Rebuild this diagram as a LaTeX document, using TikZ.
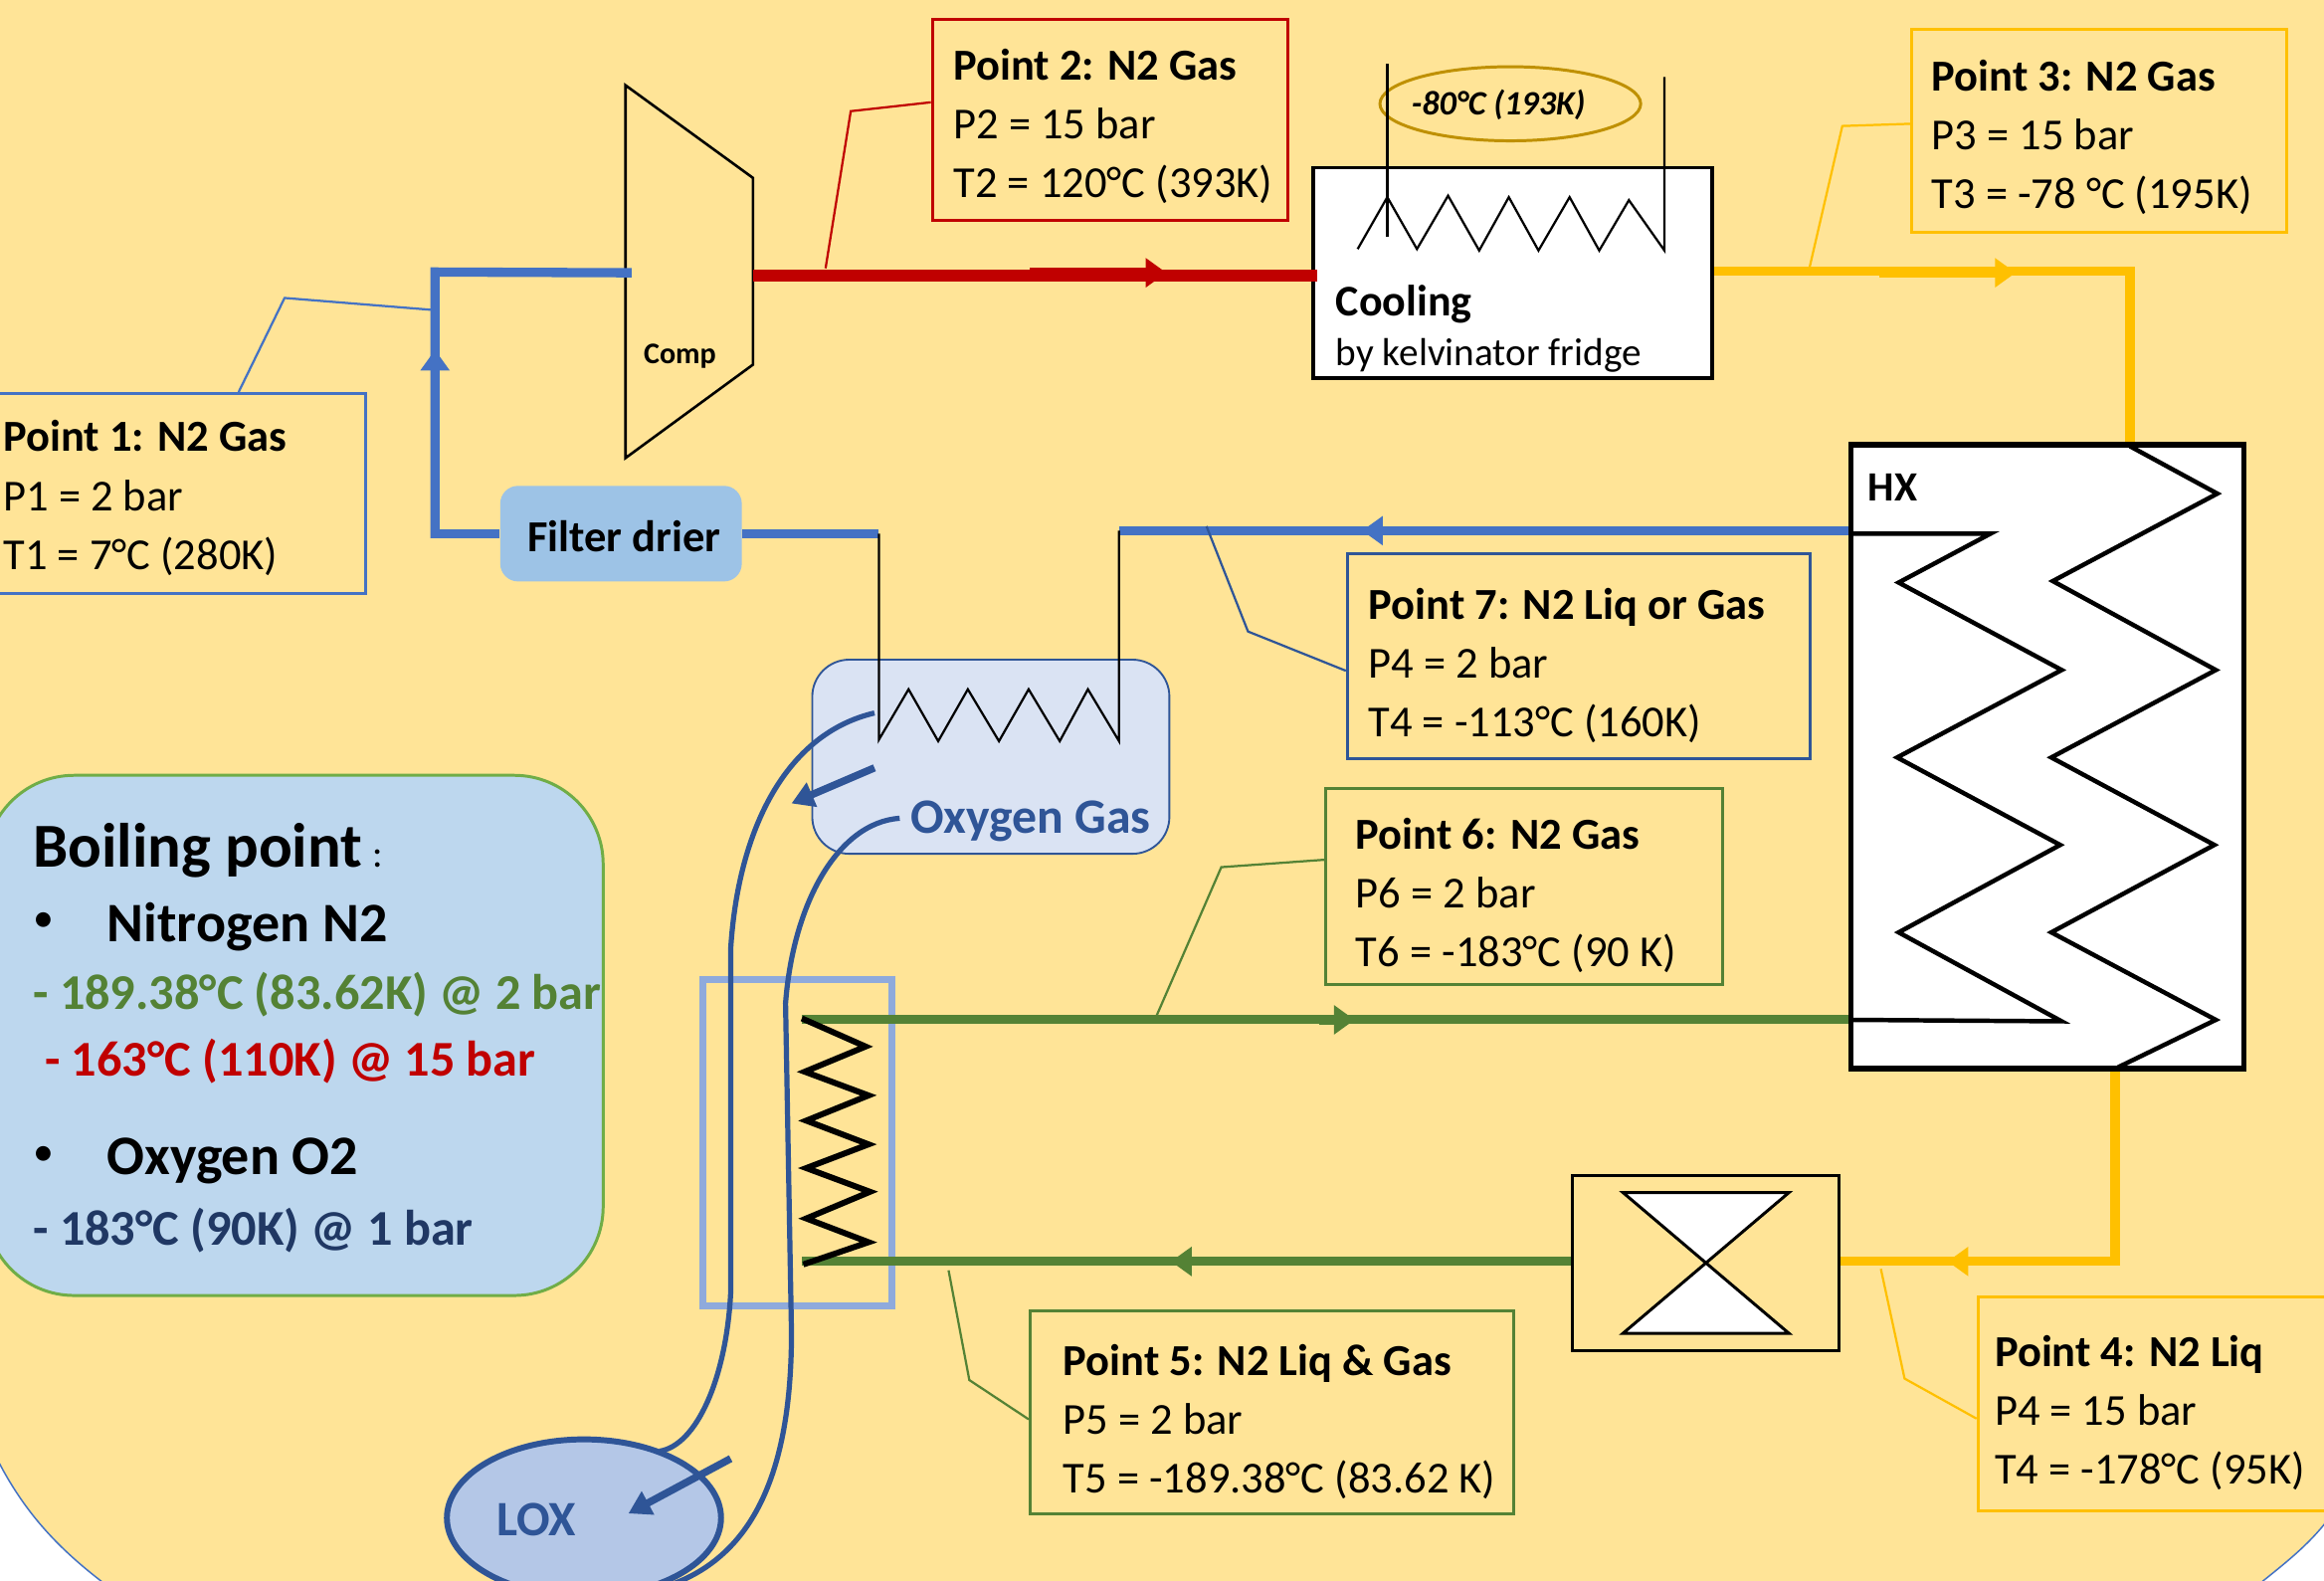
\documentclass[tikz,border=0pt]{standalone}
\usepackage{fontspec}
\setmainfont{Carlito}
\usetikzlibrary{arrows.meta,shapes.geometric}
\definecolor{sand}{HTML}{FFE497}
\definecolor{pipeblue}{HTML}{4472C4}
\definecolor{pipered}{HTML}{C00000}
\definecolor{pipeyellow}{HTML}{FFC000}
\definecolor{pipegreen}{HTML}{548235}
\definecolor{oxblue}{HTML}{2F5597}
\definecolor{navy}{HTML}{203864}
\definecolor{panelblue}{HTML}{BDD7EE}
\definecolor{panelline}{HTML}{70AD47}
\definecolor{filterblue}{HTML}{9DC3E6}
\definecolor{oxfill}{HTML}{DAE3F3}
\definecolor{loxfill}{HTML}{B4C7E7}
\definecolor{sepblue}{HTML}{8FAADC}
\definecolor{goldline}{HTML}{BF9000}
\begin{document}
\begin{tikzpicture}[x=0.02cm, y=-0.02cm]
\tikzset{
    pipe/.style={line width=1.25mm},
    flowtip/.style={line width=1.25mm, -{Triangle[length=2.8mm, width=3.8mm]}},
    pointbox/.style={rectangle, draw, line width=0.4mm, inner sep=0pt},
    pointtext/.style={anchor=west, align=left, inner sep=0pt, execute at begin node={\spaceskip=0pt\xspaceskip=0pt}, font=\fontsize{17}{22.6}\selectfont},
    callout/.style={line width=0.3mm},
    coil/.style={line width=0.3mm, black, line join=miter},
    bigcoil/.style={line width=0.6mm, black, line join=miter},
    label/.style={anchor=west, inner sep=0pt},
    oxpipe/.style={line width=0.7mm, oxblue}
}

  \clip (0,0) rectangle (1568,1066);
  \fill[white] (0,0) rectangle (1568,1066);
  \filldraw[fill=sand, draw=pipeblue, line width=0.2mm] (-5,-5) -- (1573,-5) -- (1573,1022)
      .. controls (1560,1040) and (1545,1052) .. (1525,1068) -- (70,1068)
      .. controls (40,1045) and (15,1020) .. (-5,978) -- cycle;

  \node[rectangle, draw=panelline, fill=panelblue, line width=0.4mm, rounded corners=12mm, minimum width=83.4mm, minimum height=70.2mm] (boiling) at (198.5,698.5) {};
  \node[label, font=\fontsize{24}{24}\selectfont\bfseries] (boilhead) at (22,574) {Boiling point\,{\normalfont\fontsize{15}{15}\selectfont:}};
  \node[label, font=\fontsize{16}{16}\selectfont] (bullet1) at (22,622) {•};
  \node[label, font=\fontsize{21.4}{21.4}\selectfont\bfseries] (nitrogen) at (72,625) {Nitrogen N2};
  \node[label, font=\fontsize{19.2}{19.2}\selectfont\bfseries, text=pipegreen] (boil1) at (22,671) {- 189.38°C (83.62K) @ 2 bar};
  \node[label, font=\fontsize{19.2}{19.2}\selectfont\bfseries, text=pipered] (boil2) at (30,716) {- 163°C (110K) @ 15 bar};
  \node[label, font=\fontsize{16}{16}\selectfont] (bullet2) at (22,780) {•};
  \node[label, font=\fontsize{21.4}{21.4}\selectfont\bfseries] (oxygen) at (72,783) {Oxygen O2};
  \node[label, font=\fontsize{19.2}{19.2}\selectfont\bfseries, text=navy] (boil3) at (22,830) {- 183°C (90K) @ 1 bar};

  \node[rectangle, draw=oxblue, fill=oxfill, line width=0.25mm, rounded corners=5mm, minimum width=48.2mm, minimum height=26.2mm] (oxbox) at (668.5,510.5) {};
  \node[label, font=\fontsize{19}{19}\selectfont\bfseries, text=oxblue] (oxtext) at (614,554) {Oxygen Gas};

  \node[ellipse, draw=oxblue, fill=loxfill, line width=0.8mm, minimum width=37mm, minimum height=21.2mm, inner sep=0pt] (lox) at (394,1024) {};
  \node[label, font=\fontsize{19}{19}\selectfont\bfseries, text=oxblue] (loxtext) at (335,1025) {LOX};

  \node[rectangle, draw=sepblue, line width=0.9mm, minimum width=25.6mm, minimum height=44mm] (separator) at (538,771) {};

  \node[coordinate] (vapstart) at (590,481) {};
  \node[coordinate] (vapdown) at (493,640) {};
  \node[coordinate] (vapend) at (493,872) {};
  \node[coordinate] (loxtop) at (445,979) {};
  \node[coordinate] (liqstart) at (607,552) {};
  \node[coordinate] (liqdown) at (530,677) {};
  \node[coordinate] (liqend) at (534,899) {};
  \node[coordinate] (loxfoot) at (450,1070) {};
  \draw[oxpipe] (vapstart) .. controls (530,495) and (498,560) .. (vapdown) -- (vapend)
      .. controls (490,930) and (470,975) .. (loxtop);
  \draw[oxpipe] (liqstart) .. controls (565,555) and (535,610) .. (liqdown) -- (liqend)
      .. controls (534,990) and (510,1050) .. (loxfoot);
  \node[coordinate] (dripa) at (590,518) {};
  \node[coordinate] (dripb) at (534,542) {};
  \node[coordinate] (dripc) at (493,984) {};
  \node[coordinate] (dripd) at (424,1021) {};
  \draw[line width=1mm, oxblue, -{Triangle[length=3mm, width=3.4mm]}] (dripa) -- (dripb);
  \draw[line width=1mm, oxblue, -{Triangle[length=3mm, width=3.4mm]}] (dripc) -- (dripd);

  \node[coordinate] (compin) at (423,184) {};
  \node[coordinate] (compout) at (508,186) {};
  \draw[line width=0.35mm] (422,57.5) -- (508,120) -- (508,246) -- (422,309) -- cycle;
  \node[label, font=\fontsize{11.5}{11.5}\selectfont\bfseries] (comp) at (434,240) {Comp};

  \node[rectangle, fill=filterblue, rounded corners=2.4mm, minimum width=32.6mm, minimum height=12.9mm] (filter) at (419,360) {};
  \node[anchor=center, inner sep=0pt, font=\fontsize{17}{17}\selectfont\bfseries] (filtertext) at (421,362) {Filter drier};

  \node[rectangle, draw, fill=white, line width=0.5mm, minimum width=53.8mm, minimum height=28.4mm] (cooling) at (1020.5,184) {};
  \node[label, font=\fontsize{16.8}{16.8}\selectfont\bfseries] (coolhead) at (901,205) {Cooling};
  \node[label, font=\fontsize{15}{15}\selectfont] (coolsub) at (901,240) {by kelvinator fridge};
  \node[ellipse, draw=goldline, line width=0.4mm, minimum width=35.2mm, minimum height=10mm, inner sep=0pt] (fridge) at (1019,70) {};
  \node[anchor=center, inner sep=0pt, font=\fontsize{13.1}{13.1}\selectfont\bfseries\itshape] (fridgetext) at (1011,71) {-80°C (193K)};
  \draw[coil] (936,43) -- (936,160);
  \draw[coil] (1123,52) -- (1123,169) -- (1099,135) -- (1079,169) -- (1059,133) -- (1038,169) -- (1018,133) -- (998,169) -- (977,132) -- (956,168) -- (936,133) -- (916,168);

  \node[rectangle, draw, fill=white, line width=0.7mm, minimum width=53mm, minimum height=84.2mm] (hx) at (1381.5,510.5) {};
  \node[label, font=\fontsize{16}{16}\selectfont\bfseries] (hxtext) at (1260,329) {HX};
  \draw[bigcoil] (1437,301) -- (1496,333) -- (1385,392) -- (1495,452) -- (1384,511) -- (1494,570) -- (1384,629) -- (1495,688) -- (1429,720);
  \draw[bigcoil] (1249,360) -- (1343,360) -- (1281,393) -- (1391,452) -- (1280,511) -- (1390,570) -- (1281,629) -- (1391,689) -- (1249,688);

  \node[rectangle, draw, line width=0.4mm, minimum width=36mm, minimum height=23.6mm] (valve) at (1151,852) {};
  \filldraw[fill=white, draw=black, line width=0.4mm] (1095,804.5) -- (1207,804.5) -- (1095,899.5) -- (1207,899.5) -- cycle;

  \node[coordinate] (bendA) at (293.5,183.5) {};
  \node[coordinate] (bendB) at (293.5,360) {};
  \node[coordinate] (bendC) at (593,360) {};
  \node[coordinate] (bendD) at (755,358) {};
  \node[coordinate] (bendE) at (1437,183) {};
  \node[coordinate] (bendF) at (1427,851) {};
  \node[coordinate] (coilA) at (541,687.5) {};
  \node[coordinate] (coilB) at (541,851) {};
  \draw[pipe, pipeblue, line cap=rect] (compin) -- (bendA) -- (bendB);
  \draw[pipe, pipeblue] (bendB) ++(3,0) -- (filter.west);
  \draw[pipe, pipeblue] (filter.east) -- (bendC);
  \draw[pipe, pipeblue] (bendD) -- (hx.west |- bendD);
  \draw[line width=1.6mm, pipered] (compout) -- ([xshift=0.8mm]cooling.west |- compout);
  \draw[pipe, pipeyellow] (cooling.east |- bendE) -- (bendE) -- (hx.north -| bendE);
  \draw[pipe, pipeyellow] (valve.east |- bendF) -- (bendF) -- (hx.south -| bendF);
  \draw[pipe, pipegreen] (coilA) -- (hx.west |- coilA);
  \draw[pipe, pipegreen] (valve.west |- coilB) -- (coilB);

  \node[coordinate] (arrowin) at (293.5,300) {};
  \node[coordinate] (arrowinTip) at (293.5,236) {};
  \node[coordinate] (redA) at (695,184) {};
  \node[coordinate] (redB) at (787,184) {};
  \node[coordinate] (yelA) at (1268,184) {};
  \node[coordinate] (yelB) at (1360,184) {};
  \node[coordinate] (bluA) at (1008,358) {};
  \node[coordinate] (bluB) at (919,358) {};
  \node[coordinate] (greA) at (890,688) {};
  \node[coordinate] (greB) at (914,688) {};
  \node[coordinate] (greC) at (815,851) {};
  \node[coordinate] (greD) at (790,851) {};
  \node[coordinate] (yelC) at (1400,851) {};
  \node[coordinate] (yelD) at (1314,851) {};
  \draw[flowtip, pipeblue] (arrowin) -- (arrowinTip);
  \draw[flowtip, pipered] (redA) -- (redB);
  \draw[flowtip, pipeyellow] (yelA) -- (yelB);
  \draw[flowtip, pipeblue] (bluA) -- (bluB);
  \draw[flowtip, pipegreen] (greA) -- (greB);
  \draw[flowtip, pipegreen] (greC) -- (greD);
  \draw[flowtip, pipeyellow] (yelC) -- (yelD);

  \draw[coil] (bendC) -- (593,499) -- (613,465) -- (633,500) -- (653,465) -- (674,500) -- (694,465) -- (715,500) -- (734,465) -- (755,500) -- (bendD);
  \draw[line width=0.8mm, black, line join=miter] (541,687) -- (584,706) -- (543,723) -- (586,739) -- (544,756) -- (586,772) -- (544,788) -- (587,804) -- (544,822) -- (586,838) -- (542,853);

  \node[pointbox, draw=pipeblue, minimum width=51.8mm, minimum height=27mm] (point1) at (117.5,333) {};
  \node[pointbox, draw=pipered, minimum width=48mm, minimum height=27.2mm] (point2) at (749,81) {};
  \node[pointbox, draw=pipeyellow, minimum width=50.6mm, minimum height=27.4mm] (point3) at (1416.5,88.5) {};
  \node[pointbox, draw=pipeyellow, minimum width=47mm, minimum height=28.8mm] (point4) at (1452,947) {};
  \node[pointbox, draw=pipegreen, minimum width=65.2mm, minimum height=27.4mm] (point5) at (858,952.5) {};
  \node[pointbox, draw=pipegreen, minimum width=53.6mm, minimum height=26.4mm] (point6) at (1028.5,598) {};
  \node[pointbox, draw=oxblue, minimum width=62.4mm, minimum height=27.7mm] (point7) at (1065,442.5) {};
  \node[pointtext, xshift=3mm, yshift=-0.6mm] (text1) at (point1.west) {\textbf{Point 1: N2 Gas}\\P1 = 2 bar\\T1 = 7°C (280K)};
  \node[pointtext, xshift=3mm, yshift=-0.8mm] (text2) at (point2.west) {\textbf{Point 2: N2 Gas}\\P2 = 15 bar\\T2 = 120°C (393K)};
  \node[pointtext, xshift=2.8mm, yshift=-0.8mm] (text3) at (point3.west) {\textbf{Point 3: N2 Gas}\\P3 = 15 bar\\T3 = -78 °C (195K)};
  \node[pointtext, xshift=2.4mm, yshift=-1.2mm] (text4) at (point4.west) {\textbf{Point 4: N2 Liq}\\P4 = 15 bar\\T4 = -178°C (95K)};
  \node[pointtext, xshift=4.6mm, yshift=-1.3mm] (text5) at (point5.west) {\textbf{Point 5: N2 Liq \& Gas}\\P5 = 2 bar\\T5 = -189.38°C (83.62 K)};
  \node[pointtext, xshift=4.2mm, yshift=-1.2mm] (text6) at (point6.west) {\textbf{Point 6: N2 Gas}\\P6 = 2 bar\\T6 = -183°C (90 K)};
  \node[pointtext, xshift=3mm, yshift=-1.3mm] (text7) at (point7.west) {\textbf{Point 7: N2 Liq or Gas}\\P4 = 2 bar\\T4 = -113°C (160K)};

  \node[coordinate] (tap1) at (291,209) {};
  \node[coordinate] (knee1) at (192,201) {};
  \node[coordinate] (tap2) at (557,181) {};
  \node[coordinate] (knee2) at (574,75) {};
  \node[coordinate] (tap3) at (1221,180) {};
  \node[coordinate] (knee3) at (1243,85) {};
  \node[coordinate] (tap4) at (1269,856) {};
  \node[coordinate] (knee4) at (1285,930) {};
  \node[coordinate] (tap5) at (640,857) {};
  \node[coordinate] (knee5) at (654,931) {};
  \node[coordinate] (tap6) at (780,686) {};
  \node[coordinate] (knee6) at (824,585) {};
  \node[coordinate] (tap7) at (814,355) {};
  \node[coordinate] (knee7) at (842,426) {};
  \draw[callout, pipeblue] ([xshift=8.7mm]point1.north) -- (knee1) -- (tap1);
  \draw[callout, pipered] ([yshift=2.4mm]point2.west) -- (knee2) -- (tap2);
  \draw[callout, pipeyellow] ([yshift=1mm]point3.west) -- (knee3) -- (tap3);
  \draw[callout, pipeyellow] ([yshift=-2mm]point4.west) -- (knee4) -- (tap4);
  \draw[callout, pipegreen] ([yshift=-1mm]point5.west) -- (knee5) -- (tap5);
  \draw[callout, pipegreen] ([yshift=3.6mm]point6.west) -- (knee6) -- (tap6);
  \draw[callout, oxblue] ([yshift=-2mm]point7.west) -- (knee7) -- (tap7);
\end{tikzpicture}
\end{document}
